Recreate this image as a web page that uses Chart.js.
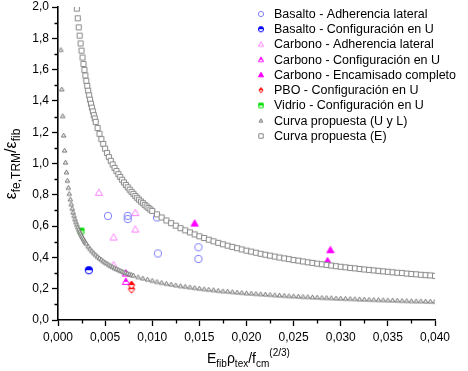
<!DOCTYPE html>
<html>
<head>
<meta charset="utf-8">
<script src="https://cdn.jsdelivr.net/npm/chart.js@4.4.1/dist/chart.umd.min.js"></script>
<style>
  body { margin: 0; background: #fff; }
  canvas { display: block; }
</style>
</head>
<body>
<canvas id="canvas" width="468" height="371"></canvas>
<script>
var FONT = "'Liberation Sans', Arial, sans-serif";

var seriesNames = ['Basalto - Adherencia lateral', 'Basalto - Configuración en U', 'Carbono - Adherencia lateral',
    'Carbono - Configuración en U', 'Carbono - Encamisado completo', 'PBO - Configuración en U',
    'Vidrio - Configuración en U', 'Curva propuesta (U y L)', 'Curva propuesta (E)'];

var xTicks = [0, 0.005, 0.010, 0.015, 0.020, 0.025, 0.030, 0.035, 0.040];
var yTicks = [0, 0.2, 0.4, 0.6, 0.8, 1.0, 1.2, 1.4, 1.6, 1.8, 2.0];

// test results
var basAdhX = [0.0053, 0.0074, 0.0074, 0.0105, 0.0106, 0.0149, 0.0149];
var basAdhY = [0.665, 0.665, 0.645, 0.655, 0.425, 0.465, 0.390];
var basUX = [0.00327];
var basUY = [0.318];
var carAdhX = [0.00434, 0.0082, 0.0082, 0.0059, 0.0059];
var carAdhY = [0.813, 0.683, 0.578, 0.527, 0.350];
var carUX = [0.0072, 0.0072];
var carUY = [0.244, 0.297];
var carEncX = [0.0145, 0.0289, 0.0286];
var carEncY = [0.616, 0.446, 0.376];
var pboX = [0.0078, 0.0078];
var pboY = [0.197, 0.223];
var vidX = [0.00246];
var vidY = [0.569];

// proposed curve (U y L), read along the triangle chain
var xU = [0.0003, 0.0004, 0.0005, 0.0006, 0.0007, 0.0008, 0.0009, 0.0010, 0.0011, 0.0012, 0.0013, 0.0014,
    0.0015, 0.0016, 0.0017, 0.0018, 0.0019, 0.0020, 0.0021, 0.0022, 0.0023, 0.0024, 0.0025, 0.0026, 0.0027,
    0.0028, 0.0029, 0.0030,
    0.0032, 0.0034, 0.0036, 0.0038, 0.0040, 0.0042, 0.0044, 0.0046, 0.0048, 0.0050, 0.0052, 0.0054, 0.0056,
    0.0058, 0.0060, 0.0062, 0.0064, 0.0066, 0.0068, 0.0070, 0.0072, 0.0074, 0.0076, 0.0078, 0.0080,
    0.0085, 0.0090, 0.0095, 0.0100, 0.0105, 0.0110, 0.0115, 0.0120, 0.0125, 0.0130, 0.0135, 0.0140, 0.0145,
    0.0150, 0.0155, 0.0160, 0.0165, 0.0170, 0.0175, 0.0180, 0.0185, 0.0190, 0.0195, 0.0200, 0.0205, 0.0210,
    0.0215, 0.0220, 0.0225, 0.0230, 0.0235, 0.0240, 0.0245, 0.0250, 0.0255, 0.0260, 0.0265, 0.0270, 0.0275,
    0.0280, 0.0285, 0.0290, 0.0295, 0.0300, 0.0305, 0.0310, 0.0315, 0.0320, 0.0325, 0.0330, 0.0335, 0.0340,
    0.0345, 0.0350, 0.0355, 0.0360, 0.0365, 0.0370, 0.0375, 0.0380, 0.0385, 0.0390, 0.0395, 0.0400];
var yU = [1.726, 1.474, 1.303, 1.179, 1.083, 1.006, 0.944, 0.890, 0.845, 0.806, 0.771, 0.740,
    0.712, 0.687, 0.665, 0.644, 0.625, 0.608, 0.592, 0.577, 0.563, 0.550, 0.538, 0.527, 0.516,
    0.505, 0.496, 0.487,
    0.469, 0.454, 0.440, 0.427, 0.415, 0.404, 0.394, 0.385, 0.376, 0.367, 0.360, 0.352, 0.345,
    0.339, 0.332, 0.326, 0.321, 0.315, 0.310, 0.305, 0.301, 0.296, 0.292, 0.288, 0.284,
    0.274, 0.266, 0.258, 0.251, 0.244, 0.238, 0.232, 0.227, 0.222, 0.217, 0.213, 0.209, 0.205,
    0.201, 0.197, 0.194, 0.191, 0.187, 0.184, 0.182, 0.179, 0.176, 0.174, 0.171, 0.169, 0.167,
    0.165, 0.163, 0.161, 0.159, 0.157, 0.155, 0.153, 0.152, 0.150, 0.148, 0.147, 0.145, 0.144,
    0.142, 0.141, 0.140, 0.138, 0.137, 0.136, 0.135, 0.134, 0.132, 0.131, 0.130, 0.129, 0.128,
    0.127, 0.126, 0.125, 0.124, 0.123, 0.122, 0.121, 0.120, 0.120, 0.119, 0.118, 0.117];

// proposed curve (E), read along the square chain
var xE = [0.0020, 0.0021, 0.0022, 0.0023, 0.0024, 0.0025, 0.0026, 0.0027, 0.0028, 0.0029, 0.0030, 0.0031,
    0.0032, 0.0033, 0.0034, 0.0035, 0.0036, 0.0037, 0.0038, 0.0039, 0.0040,
    0.0042, 0.0044, 0.0046, 0.0048, 0.0050, 0.0052, 0.0054, 0.0056, 0.0058, 0.0060, 0.0062, 0.0064, 0.0066,
    0.0068, 0.0070, 0.0072, 0.0074, 0.0076, 0.0078, 0.0080, 0.0082, 0.0084, 0.0086, 0.0088, 0.0090, 0.0092,
    0.0094, 0.0096, 0.0098, 0.0100,
    0.0105, 0.0110, 0.0115, 0.0120, 0.0125, 0.0130, 0.0135, 0.0140, 0.0145, 0.0150, 0.0155, 0.0160, 0.0165,
    0.0170, 0.0175, 0.0180, 0.0185, 0.0190, 0.0195, 0.0200, 0.0205, 0.0210, 0.0215, 0.0220, 0.0225, 0.0230,
    0.0235, 0.0240, 0.0245, 0.0250, 0.0255, 0.0260, 0.0265, 0.0270, 0.0275, 0.0280, 0.0285, 0.0290, 0.0295,
    0.0300, 0.0305, 0.0310, 0.0315, 0.0320, 0.0325, 0.0330, 0.0335, 0.0340, 0.0345, 0.0350, 0.0355, 0.0360,
    0.0365, 0.0370, 0.0375, 0.0380, 0.0385, 0.0390, 0.0395, 0.0400];
var yE = [1.990, 1.928, 1.870, 1.817, 1.767, 1.721, 1.677, 1.636, 1.598, 1.562, 1.528, 1.496,
    1.465, 1.436, 1.408, 1.382, 1.357, 1.333, 1.309, 1.288, 1.266,
    1.227, 1.190, 1.156, 1.125, 1.095, 1.067, 1.041, 1.017, 0.994, 0.972, 0.952, 0.932, 0.914,
    0.896, 0.879, 0.863, 0.848, 0.833, 0.819, 0.806, 0.793, 0.781, 0.769, 0.757, 0.747, 0.736,
    0.726, 0.716, 0.706, 0.697,
    0.675, 0.655, 0.636, 0.619, 0.603, 0.587, 0.573, 0.560, 0.547, 0.535, 0.524, 0.513, 0.503,
    0.493, 0.484, 0.475, 0.467, 0.459, 0.451, 0.443, 0.437, 0.430, 0.423, 0.417, 0.411, 0.405,
    0.399, 0.394, 0.389, 0.383, 0.379, 0.374, 0.369, 0.365, 0.360, 0.356, 0.352, 0.348, 0.344,
    0.340, 0.337, 0.333, 0.330, 0.326, 0.323, 0.320, 0.317, 0.314, 0.311, 0.308, 0.305, 0.302,
    0.300, 0.297, 0.294, 0.292, 0.289, 0.287, 0.285, 0.282];

function pts(xs, ys) {
    return xs.map(function (x, i) { return { x: x, y: ys[i] }; });
}

// little canvases used as point styles (open / half filled / filled)
function marker(shape, color, fill, r) {
    var s = Math.ceil(r * 2 + 4);
    var c = document.createElement('canvas');
    c.width = s;
    c.height = s;
    var g = c.getContext('2d');
    var m = s / 2;
    function path() {
        g.beginPath();
        if (shape == 'circle') {
            g.arc(m, m, r, 0, Math.PI * 2);
        } else if (shape == 'triangle') {
            g.moveTo(m, m - r * 1.05);
            g.lineTo(m + r, m + r * 0.7);
            g.lineTo(m - r, m + r * 0.7);
            g.closePath();
        } else if (shape == 'diamond') {
            g.moveTo(m, m - r);
            g.lineTo(m + r * 0.8, m);
            g.lineTo(m, m + r);
            g.lineTo(m - r * 0.8, m);
            g.closePath();
        } else {
            g.rect(m - r * 0.85, m - r * 0.85, r * 1.7, r * 1.7);
        }
    }
    g.lineWidth = 1;
    g.strokeStyle = color;
    if (fill == 'full') {
        path();
        g.fillStyle = color;
        g.fill();
    } else if (fill == 'half') {
        path();
        g.fillStyle = '#fff';
        g.fill();
        g.save();
        g.beginPath();
        g.rect(0, 0, s, m);
        g.clip();
        path();
        g.fillStyle = color;
        g.fill();
        g.restore();
    } else if (fill == 'white') {
        path();
        g.fillStyle = '#fff';
        g.fill();
    }
    path();
    g.stroke();
    return c;
}

var styles = [
    ['circle', '#8080ff', 'none', 3.7],
    ['circle', '#0000ff', 'half', 3.7],
    ['triangle', '#ff80ff', 'none', 3.6],
    ['triangle', '#ff00ff', 'half', 3.6],
    ['triangle', '#ff00ff', 'full', 3.6],
    ['diamond', '#ff0000', 'half', 4],
    ['rect', '#00dd00', 'half', 3.2],
    ['triangle', '#6e6e6e', 'white', 2.2],
    ['rect', '#888888', 'white', 3.0]
];
var plotMarkers = styles.map(function (s) { return marker(s[0], s[1], s[2], s[3]); });
var legendMarkers = styles.map(function (s) { return marker(s[0], s[1], s[2], s[0] == 'triangle' && s[2] == 'white' ? 1.8 : 2.6); });

var seriesData = [
    pts(basAdhX, basAdhY), pts(basUX, basUY), pts(carAdhX, carAdhY), pts(carUX, carUY),
    pts(carEncX, carEncY), pts(pboX, pboY), pts(vidX, vidY), pts(xU, yU), pts(xE, yE)
];

var datasets = seriesData.map(function (d, i) {
    return {
        label: seriesNames[i],
        data: d,
        pointStyle: plotMarkers[i],
        pointRadius: 4,
        showLine: false,
        order: i >= 7 ? 0 : 1
    };
});

function drawRich(ctx, parts, x, y) {
    parts.forEach(function (p) {
        ctx.font = p[1] + 'px ' + FONT;
        ctx.fillText(p[0], x, y + p[2]);
        x += ctx.measureText(p[0]).width;
    });
}
function richWidth(ctx, parts) {
    var w = 0;
    parts.forEach(function (p) {
        ctx.font = p[1] + 'px ' + FONT;
        w += ctx.measureText(p[0]).width;
    });
    return w;
}

var extras = {
    id: 'extras',
    afterDraw: function (chart) {
        var ctx = chart.ctx;
        var xs = chart.scales.x, ys = chart.scales.y;
        var area = chart.chartArea;
        ctx.save();
        // minor ticks
        ctx.strokeStyle = '#000';
        ctx.lineWidth = 1.3;
        ctx.beginPath();
        for (var i = 0; i < xTicks.length - 1; i++) {
            var px = Math.round(xs.getPixelForValue((xTicks[i] + xTicks[i + 1]) / 2)) + 0.5;
            ctx.moveTo(px, area.bottom);
            ctx.lineTo(px, area.bottom + 3.5);
        }
        for (var j = 0; j < yTicks.length - 1; j++) {
            var py = Math.round(ys.getPixelForValue((yTicks[j] + yTicks[j + 1]) / 2)) + 0.5;
            ctx.moveTo(area.left, py);
            ctx.lineTo(area.left - 3.5, py);
        }
        ctx.stroke();

        // axis titles
        ctx.fillStyle = '#000';
        ctx.textBaseline = 'alphabetic';
        ctx.textAlign = 'left';
        var xt = [['E', 14, 0], ['fib', 10, 3.5], ['\u03c1', 14, 0], ['tex', 10, 3.5], ['/', 14, 0],
            ['f', 14, 0], ['cm', 10, 3.5], ['(2/3)', 10, -7]];
        drawRich(ctx, xt, 207, 363);

        var yt = [['\u03b5', 16, 0], ['fe,TRM', 12, 3.5], ['/', 16, 0], ['\u03b5', 16, 0], ['fib', 12, 3.5]];
        var w = richWidth(ctx, yt);
        ctx.save();
        ctx.translate(16, 164 + w / 2);
        ctx.rotate(-Math.PI / 2);
        drawRich(ctx, yt, 0, 0);
        ctx.restore();

        // legend inside the plot
        ctx.font = '12.5px ' + FONT;
        ctx.textBaseline = 'middle';
        for (var k = 0; k < seriesNames.length; k++) {
            var ly = 14 + k * 15.25;
            var mk = legendMarkers[k];
            ctx.drawImage(mk, 261 - mk.width / 2, ly - mk.height / 2);
            ctx.fillText(seriesNames[k], 274, ly + 0.5);
        }
        ctx.restore();
    }
};

var tickFont = { family: FONT, size: 12 };

window.onload = function () {
    var ctx = document.getElementById('canvas').getContext('2d');
    window.myChart = new Chart(ctx, {
        type: 'scatter',
        data: { datasets: datasets },
        options: {
            responsive: false,
            animation: false,
            layout: { padding: { left: 0, right: 33, top: 7, bottom: 0 } },
            plugins: {
                legend: { display: false },
                tooltip: { enabled: false }
            },
            scales: {
                x: {
                    type: 'linear',
                    min: 0,
                    max: 0.04,
                    ticks: {
                        stepSize: 0.005,
                        autoSkip: false,
                        maxRotation: 0,
                        padding: 4,
                        color: '#000',
                        font: tickFont,
                        callback: function (v) { return Number(v).toFixed(3).replace('.', ','); }
                    },
                    grid: { drawOnChartArea: false, tickLength: 6, tickWidth: 1.3, tickColor: '#000' },
                    border: { color: '#000', width: 1.6 },
                    afterFit: function (s) { s.height = 51; s.paddingLeft = 0; s.paddingRight = 0; }
                },
                y: {
                    type: 'linear',
                    min: 0,
                    max: 2,
                    ticks: {
                        stepSize: 0.2,
                        autoSkip: false,
                        padding: 3,
                        color: '#000',
                        font: tickFont,
                        callback: function (v) { return Number(v).toFixed(1).replace('.', ','); }
                    },
                    grid: { drawOnChartArea: false, tickLength: 6, tickWidth: 1.3, tickColor: '#000' },
                    border: { color: '#000', width: 1.6 },
                    afterFit: function (s) { s.width = 58; s.paddingTop = 0; s.paddingBottom = 0; }
                }
            }
        },
        plugins: [extras]
    });
};
</script>
</body>
</html>
